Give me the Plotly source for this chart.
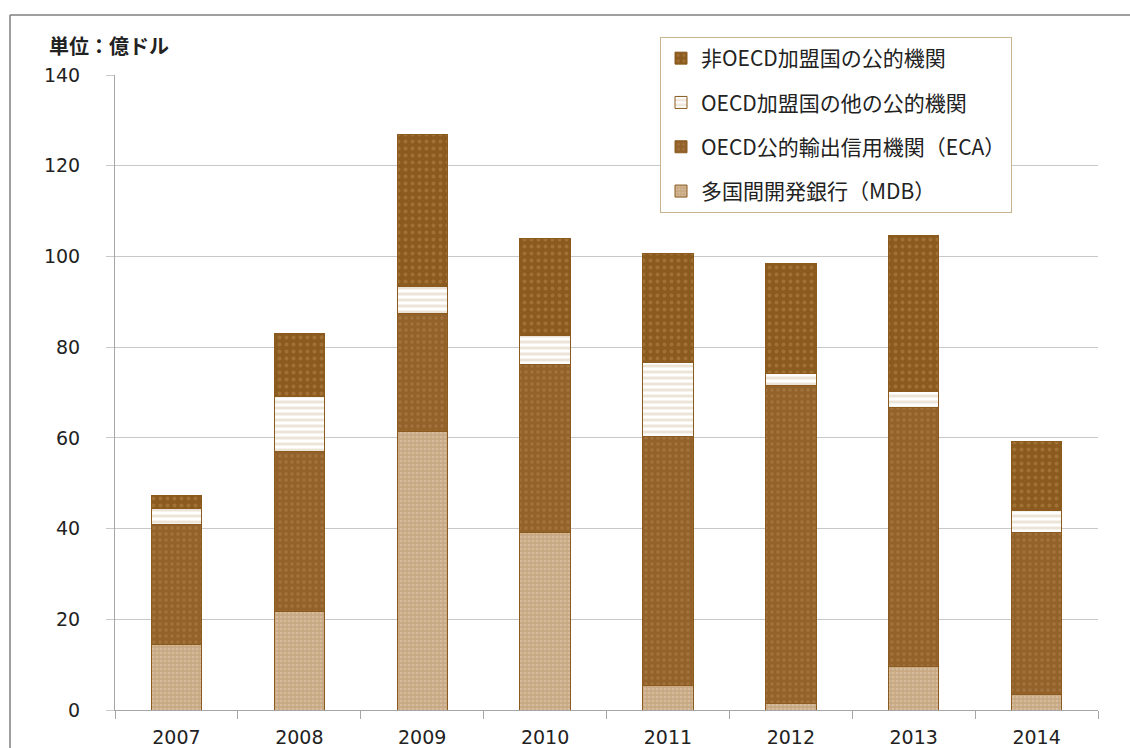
import plotly.graph_objects as go

years = ["2007", "2008", "2009", "2010", "2011", "2012", "2013", "2014"]

# 単位：億ドル
mdb = [14.5, 21.8, 61.5, 39.2, 5.3, 1.5, 9.7, 3.5]
eca = [26.5, 35.1, 26.0, 36.9, 54.9, 70.1, 56.9, 35.7]
other_oecd = [3.5, 12.3, 5.8, 6.4, 16.5, 2.7, 3.7, 4.7]
non_oecd = [2.9, 13.9, 33.5, 21.5, 24.0, 24.2, 34.4, 15.4]

series = [
    ("多国間開発銀行（MDB）", mdb, dict(shape=".", bgcolor="#C8A984", fgcolor="#E3D0B4", size=4, solidity=0.35)),
    ("OECD公的輸出信用機関（ECA）", eca, dict(shape=".", bgcolor="#93612A", fgcolor="#B3854F", size=6, solidity=0.25)),
    ("OECD加盟国の他の公的機関", other_oecd, dict(shape="-", bgcolor="#FFFFFF", fgcolor="#DCCAB2", size=6, solidity=0.5)),
    ("非OECD加盟国の公的機関", non_oecd, dict(shape=".", bgcolor="#8B5A1F", fgcolor="#B5864A", size=7, solidity=0.25)),
]

fig = go.Figure()
for i, (name, vals, pat) in enumerate(series):
    fig.add_trace(go.Bar(
        x=years, y=vals, name=name, legendgroup=f"g{i}",
        legendrank=100 - i,
        marker=dict(color=pat["bgcolor"], pattern=pat,
                    line=dict(color="#8B5A1F", width=1)),
    ))

FONT = "DejaVu Sans"
JP = "Noto Sans CJK JP"

W, H = 1130, 748
L, R, T, B = 115, 1098, 75, 710
pw, ph = R - L, B - T

def px(x):
    return (x - L) / pw

def py(y):
    return (B - y) / ph

fig.update_layout(
    width=W, height=H,
    margin=dict(l=L, r=W - R, t=T, b=H - B),
    barmode="stack", bargap=0.59,
    paper_bgcolor="white", plot_bgcolor="white",
    font=dict(family=FONT, size=19, color="#222222"),
    showlegend=True,
    legend=dict(
        x=px(660), y=py(37), xanchor="left", yanchor="top",
        traceorder="grouped", tracegroupgap=14,
        bordercolor="#C8B490", borderwidth=1, bgcolor="white",
        font=dict(family=JP, size=21, color="#222222"),
        itemwidth=30,
    ),
    xaxis=dict(
        showline=True, linecolor="#A6A6A6", linewidth=1,
        ticks="outside", tickson="boundaries", ticklen=8, tickcolor="#A6A6A6",
        ticklabelstandoff=10, automargin=False,
        tickfont=dict(family=FONT, size=19, color="#222222"),
        showgrid=False,
    ),
    yaxis=dict(
        range=[0, 140], dtick=20,
        showline=True, linecolor="#A6A6A6", linewidth=1,
        ticks="outside", ticklen=8, tickcolor="#C8C8C8",
        ticklabelstandoff=22, automargin=False,
        showgrid=True, gridcolor="#C8C8C8", gridwidth=1,
        zeroline=False,
        tickfont=dict(family=FONT, size=19, color="#222222"),
    ),
    shapes=[
        dict(type="line", xref="paper", yref="paper",
             x0=px(10), x1=px(1135), y0=py(15), y1=py(15),
             line=dict(color="#7F7F7F", width=1.5)),
        dict(type="line", xref="paper", yref="paper",
             x0=px(10), x1=px(10), y0=py(15), y1=py(760),
             line=dict(color="#7F7F7F", width=1.5)),
    ],
    annotations=[
        dict(text="<b>単位：億ドル</b>", xref="paper", yref="paper",
             x=px(47), y=py(45), xanchor="left", yanchor="middle",
             showarrow=False, font=dict(family=JP, size=20, color="#222222")),
    ],
)

fig.write_html("out.html")
